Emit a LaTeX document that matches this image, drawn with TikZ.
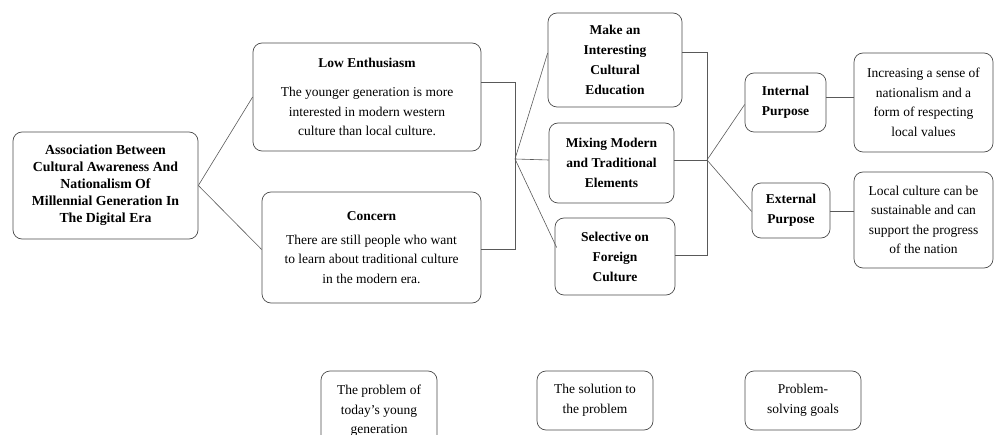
\documentclass[tikz,border=0pt]{standalone}
\usepackage{fontspec}
\setmainfont{Liberation Serif}
\usetikzlibrary{positioning}

\tikzstyle{block} = [rectangle, draw=black!70, line width=0.7pt, rounded corners=9pt, fill=white, align=center, inner sep=2pt, font=\fontsize{13.5}{19.5}\selectfont]
\tikzstyle{title} = [font=\bfseries\fontsize{13.5}{20}\selectfont]
\tikzstyle{link} = [draw=black!65, line width=0.6pt]

\begin{document}
\begin{tikzpicture}[x=1pt, y=-1pt]
\useasboundingbox (0,0) rectangle (995,435);

\node [block, minimum width=185pt, minimum height=107pt, font=\bfseries\fontsize{13.8}{17}\selectfont] (root) at (105.5,185.5) {Association Between\\Cultural Awareness And\\Nationalism Of\\Millennial Generation In\\The Digital Era};

\node [block, minimum width=228pt, minimum height=108pt] (low) at (367,97) {\textbf{Low Enthusiasm}\\[10pt]The younger generation is more\\interested in modern western\\culture than local culture.};

\node [block, minimum width=219pt, minimum height=111pt] (con) at (371.5,247.5) {\textbf{Concern}\\[4pt]There are still people who want\\to learn about traditional culture\\in the modern era.};

\node [block, title, minimum width=134pt, minimum height=94pt] (make) at (615,60) {Make an\\Interesting\\Cultural\\Education};

\node [block, title, minimum width=125pt, minimum height=80pt] (mix) at (611.5,163) {Mixing Modern\\and Traditional\\Elements};

\node [block, title, minimum width=120pt, minimum height=77pt] (sel) at (615,256.5) {Selective on\\Foreign\\Culture};

\node [block, title, minimum width=81pt, minimum height=59pt] (int) at (785.5,102.5) {Internal\\Purpose};

\node [block, title, minimum width=78pt, minimum height=55pt] (ext) at (791,210.5) {External\\Purpose};

\node [block, minimum width=139pt, minimum height=99pt] (intgoal) at (923.5,102.5) {Increasing a sense of\\nationalism and a\\form of respecting\\local values};

\node [block, minimum width=139pt, minimum height=96pt] (extgoal) at (923.5,220) {Local culture can be\\sustainable and can\\support the progress\\of the nation};

% legend
\node [block, minimum width=116pt, minimum height=80pt] (legprob) at (379,411) {The problem of\\today's young\\generation};
\node [block, minimum width=116pt, minimum height=59pt] (legsol) at (595,400.5) {The solution to\\the problem};
\node [block, minimum width=116pt, minimum height=59pt] (leggoal) at (803,400.5) {Problem-\\solving goals};

\coordinate (j1) at (515,159);
\coordinate (j2) at (707,160);

\draw [link] (root.east) -- (low.west);
\draw [link] (root.east) -- ([yshift=-2pt]con.west);

\draw [link] ([yshift=15pt]low.east) -| (j1);
\draw [link] (j1) |- ([yshift=-2pt]con.east);

\draw [link] (j1) -- ([yshift=7pt]make.west);
\draw [link] (j1) -- ([yshift=3pt]mix.west);
\draw [link] (j1) -- ([xshift=2pt, yshift=9pt]sel.west);

\draw [link] ([yshift=8pt]make.east) -| (j2);
\draw [link] ([yshift=3pt]mix.east) -- (j2);
\draw [link] (j2) |- ([yshift=1pt]sel.east);

\draw [link] (j2) -- ([yshift=-2pt]int.west);
\draw [link] (j2) -- ([yshift=-1pt]ext.west);

\draw [link] ([yshift=5pt]int.east) -- ([yshift=5pt]int.east -| intgoal.west);
\draw [link] ([yshift=-1pt]ext.east) -- ([yshift=-1pt]ext.east -| extgoal.west);

\end{tikzpicture}
\end{document}
